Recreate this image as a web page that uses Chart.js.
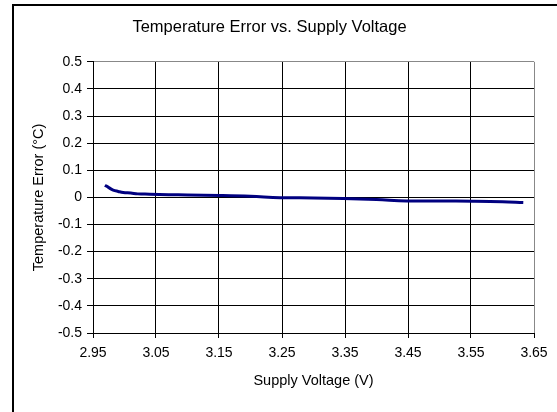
<!DOCTYPE html>
<html lang="en">

<head>
    <meta charset="UTF-8">
    <title>Temperature Error vs. Supply Voltage</title>
    <script src="https://cdn.jsdelivr.net/npm/chart.js"></script>
    <style>
        body { margin: 0; background: #fff; }
    </style>
</head>

<body>
    <canvas id="myChart" width="557" height="412"></canvas>

    <script>
        // data
        const voltage = [2.969, 2.975, 2.982, 2.99, 2.998, 3.01, 3.021, 3.04, 3.07, 3.10, 3.152, 3.2, 3.247, 3.3, 3.347, 3.4, 3.448, 3.5, 3.552, 3.6, 3.633];
        const tempError = [0.045, 0.036, 0.027, 0.022, 0.018, 0.016, 0.013, 0.012, 0.010, 0.009, 0.007, 0.004, -0.001, -0.002, -0.004, -0.008, -0.013, -0.013, -0.014, -0.016, -0.019];
        const xTicks = [2.95, 3.05, 3.15, 3.25, 3.35, 3.45, 3.55, 3.65];
        const yTicks = [-0.5, -0.4, -0.3, -0.2, -0.1, 0, 0.1, 0.2, 0.3, 0.4, 0.5];

        const points = voltage.map((v, i) => ({ x: v, y: tempError[i] }));

        // outer chart frame, like the excel chart border
        const frame = {
            id: 'frame',
            beforeDraw(chart) {
                const c = chart.ctx;
                c.save();
                c.fillStyle = '#fff';
                c.fillRect(0, 0, chart.width, chart.height);
                c.strokeStyle = '#000';
                c.lineWidth = 2;
                c.strokeRect(13, 5, 700, 600);
                c.restore();
            }
        };

        const family = '"Liberation Sans", Arial, sans-serif';
        const tickFont = { family: family, size: 14 };
        const axisFont = { family: family, size: 14.5 };

        new Chart(document.getElementById('myChart'), {
            type: 'line',
            data: {
                datasets: [{
                    data: points,
                    borderColor: '#000080',
                    borderWidth: 3,
                    pointRadius: 0,
                    tension: 0.4,
                    fill: false
                }]
            },
            options: {
                responsive: false,
                animation: false,
                layout: { padding: { left: 5, right: 23, top: 0, bottom: 0 } },
                plugins: {
                    legend: { display: false },
                    tooltip: { enabled: false },
                    title: {
                        display: true,
                        text: 'Temperature Error vs. Supply Voltage',
                        color: '#000',
                        font: { family: family, size: 16.5, weight: 'normal' },
                        padding: { top: 18, bottom: 24 }
                    }
                },
                scales: {
                    x: {
                        type: 'linear',
                        min: xTicks[0],
                        max: xTicks[xTicks.length - 1],
                        afterBuildTicks: (s) => { s.ticks = xTicks.map(v => ({ value: v })); },
                        afterFit: (s) => { s.height = 79; },
                        ticks: {
                            color: '#000',
                            font: tickFont,
                            padding: 7,
                            maxRotation: 0,
                            callback: (v) => v.toFixed(2)
                        },
                        grid: {
                            color: (c) => c.tick && c.tick.value === xTicks[xTicks.length - 1] ? '#888' : '#000',
                            tickColor: '#000',
                            tickLength: 5,
                            lineWidth: 1
                        },
                        border: { color: '#000', width: 1 },
                        title: {
                            display: true,
                            text: 'Supply Voltage (V)',
                            color: '#000',
                            font: axisFont,
                            padding: { top: 0, bottom: 22 }
                        }
                    },
                    y: {
                        min: yTicks[0],
                        max: yTicks[yTicks.length - 1],
                        afterBuildTicks: (s) => { s.ticks = yTicks.map(v => ({ value: v })); },
                        afterFit: (s) => { s.width = 88; },
                        ticks: {
                            color: '#000',
                            font: tickFont,
                            padding: 5,
                            callback: (v) => Math.abs(v) < 1e-9 ? '0' : v.toFixed(1)
                        },
                        grid: {
                            color: (c) => c.tick && c.tick.value === yTicks[yTicks.length - 1] ? '#888' : '#000',
                            tickColor: '#000',
                            tickLength: 6,
                            lineWidth: 1
                        },
                        border: { color: '#000', width: 1 },
                        title: {
                            display: true,
                            text: 'Temperature Error (°C)',
                            color: '#000',
                            font: axisFont,
                            padding: { top: 25, bottom: 0 }
                        }
                    }
                }
            },
            plugins: [frame]
        });
    </script>
</body>

</html>
